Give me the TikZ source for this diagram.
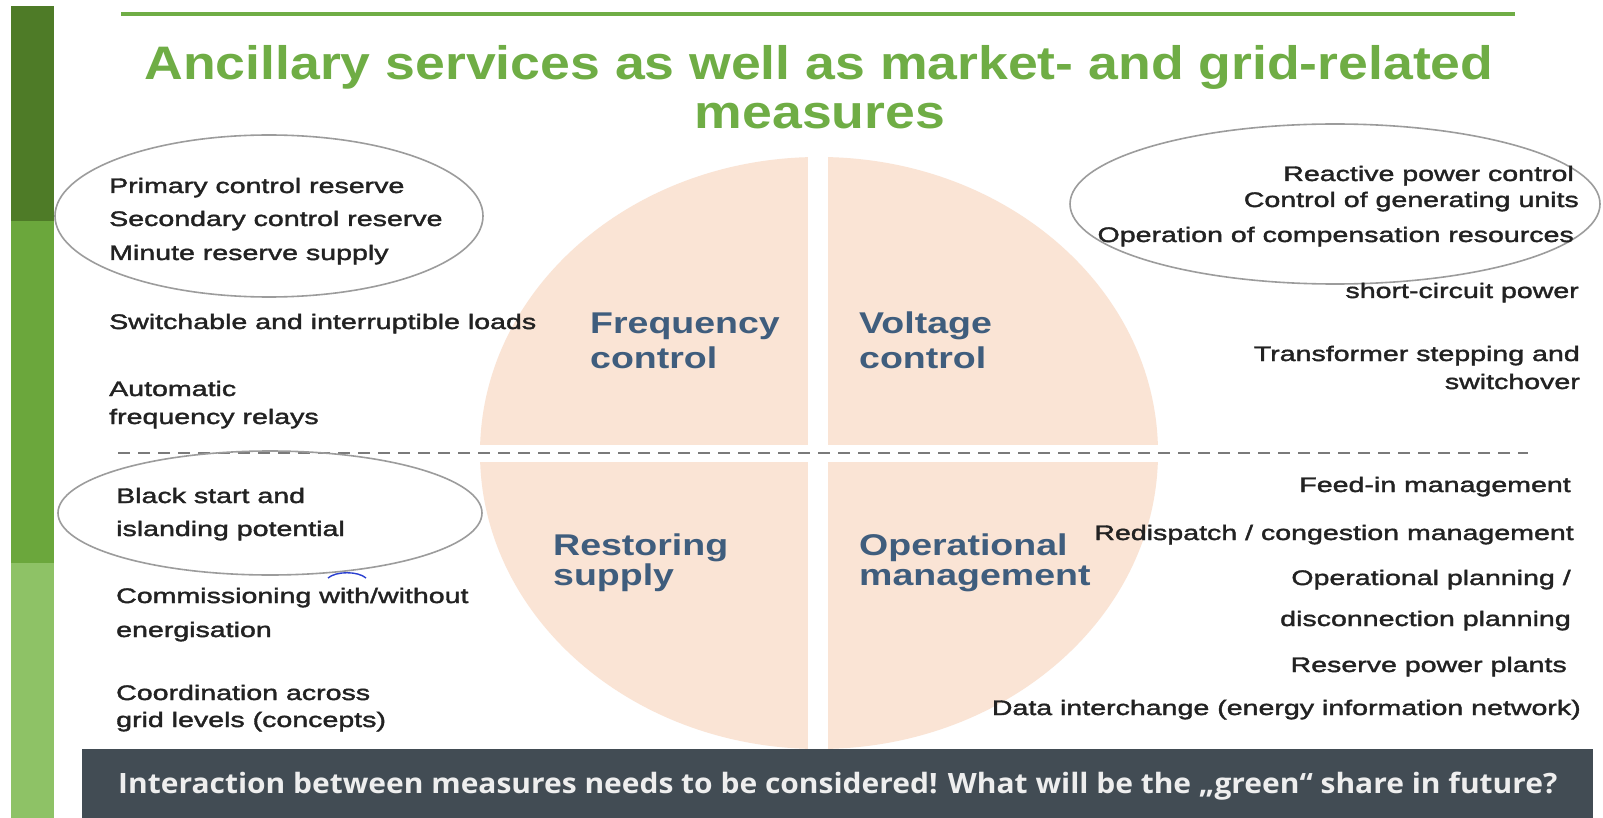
\documentclass[tikz,border=0pt]{standalone}
\usepackage{fontspec}
\setmainfont{Liberation Sans}
\newfontfamily\bodyfont[FakeStretch=1.36,FakeBold=1.8]{Liberation Sans}
\newfontfamily\titlefont[FakeStretch=1.14]{Liberation Sans}
\newfontfamily\quadfont[FakeStretch=1.25]{Liberation Sans}
\newfontfamily\barfont[FakeStretch=1.07]{Open Sans}
\definecolor{bardark}{HTML}{4E7B27}
\definecolor{barmid}{HTML}{6BA73C}
\definecolor{barlight}{HTML}{8EC266}
\definecolor{titlegreen}{HTML}{6FAD45}
\definecolor{pie}{HTML}{FAE4D5}
\definecolor{quadtext}{HTML}{3F5D7D}
\definecolor{bodytext}{HTML}{222222}
\definecolor{ellgrey}{HTML}{9C9C9C}
\definecolor{dashgrey}{HTML}{7A7A7A}
\definecolor{slate}{HTML}{424C54}
\definecolor{bartext}{HTML}{EEEEEE}
\definecolor{squiggle}{HTML}{2A3FD0}
\tikzset{
  lt/.style={anchor=base west, inner sep=0pt, text=bodytext, font=\bodyfont\fontsize{21}{25}\selectfont},
  rt/.style={anchor=base east, inner sep=0pt, text=bodytext, font=\bodyfont\fontsize{21}{25}\selectfont},
  qd/.style={anchor=base west, inner sep=0pt, text=quadtext, font=\quadfont\bfseries\fontsize{30}{32}\selectfont},
  ttl/.style={anchor=base, inner sep=0pt, text=titlegreen, font=\titlefont\bfseries\fontsize{47}{50}\selectfont},
  ring/.style={draw=ellgrey, line width=1.6pt},
}
\begin{document}
\begin{tikzpicture}[x=1pt,y=-1pt]
\useasboundingbox (0,0) rectangle (1603,818);
\fill[white] (0,0) rectangle (1603,818);
% left colour bar
\fill[bardark] (11,6) rectangle (54,221);
\fill[barmid] (11,221) rectangle (54,563);
\fill[barlight] (11,563) rectangle (54,818);
% top rule
\draw[titlegreen, line width=4pt] (121,14) -- (1515,14);
% title
\node[ttl] (t1) at (819,80) {Ancillary services as well as market- and grid-related};
\node[ttl] (t2) at (820,129) {measures};
% pie
\fill[pie] (819,453) ellipse [x radius=339, y radius=296];
\fill[white] (808,140) rectangle (828,760);
\fill[white] (470,445) rectangle (1170,462);
% dashed divider
\draw[dashgrey, line width=1.8pt, dash pattern=on 12pt off 8pt] (118,453) -- (1528,453);
% ellipses
\draw[ring] (269,216) ellipse [x radius=214, y radius=81];
\draw[ring] (270,513) ellipse [x radius=212, y radius=62];
\draw[ring] (1335,204) ellipse [x radius=265, y radius=80];
% quadrant labels
\node[qd] (fq1) at (590,333) {Frequency};
\node[qd] (fq2) at (590,368) {control};
\node[qd] (vc1) at (859,333) {Voltage};
\node[qd] (vc2) at (859,368) {control};
\node[qd] (rs1) at (553,555) {Restoring};
\node[qd] (rs2) at (553,585) {supply};
\node[qd] (om1) at (859,555) {Operational};
\node[qd] (om2) at (859,585) {management};
% left texts
\node[lt] (l1) at (109,193) {Primary control reserve};
\node[lt] (l2) at (109,226) {Secondary control reserve};
\node[lt] (l3) at (109,260) {Minute reserve supply};
\node[lt] (l4) at (109,329) {Switchable and interruptible loads};
\node[lt] (l5) at (109,396) {Automatic};
\node[lt] (l6) at (109,424) {frequency relays};
\node[lt] (l7) at (116,503) {Black start and};
\node[lt] (l8) at (116,536) {islanding potential};
\node[lt] (l9) at (116,603) {Commissioning with/without};
\node[lt] (l10) at (116,637) {energisation};
\node[lt] (l11) at (116,700) {Coordination across};
\node[lt] (l12) at (116,727) {grid levels (concepts)};
% spell-check squiggle
\coordinate (sqa) at (328,578);
\coordinate (sqb) at (366,578);
\draw[squiggle, line width=1.4pt] (sqa) .. controls (336,571) and (358,571) .. (sqb);
% right texts
\node[rt] (r1) at (1574,181) {Reactive power control};
\node[rt] (r2) at (1579,207) {Control of generating units};
\node[rt] (r3) at (1574,242) {Operation of compensation resources};
\node[rt] (r4) at (1579,298) {short-circuit power};
\node[rt] (r5) at (1580,361) {Transformer stepping and};
\node[rt] (r6) at (1580,389) {switchover};
\node[rt] (r7) at (1571,492) {Feed-in management};
\node[rt] (r8) at (1574,540) {Redispatch / congestion management};
\node[rt] (r9) at (1571,585) {Operational planning /};
\node[rt] (r10) at (1571,626) {disconnection planning};
\node[rt] (r11) at (1567,672) {Reserve power plants};
\node[rt] (r12) at (1581,715) {Data interchange (energy information network)};
% bottom bar
\node[fill=slate, minimum width=1511pt, minimum height=69pt, inner sep=0pt, anchor=north west] (bar) at (82,749) {};
\node[anchor=base west, inner sep=0pt, text=bartext, font=\barfont\bfseries\fontsize{28}{30}\selectfont] (bartxt) at (118,793) {Interaction between measures needs to be considered! What will be the „green“ share in future?};
\end{tikzpicture}
\end{document}
